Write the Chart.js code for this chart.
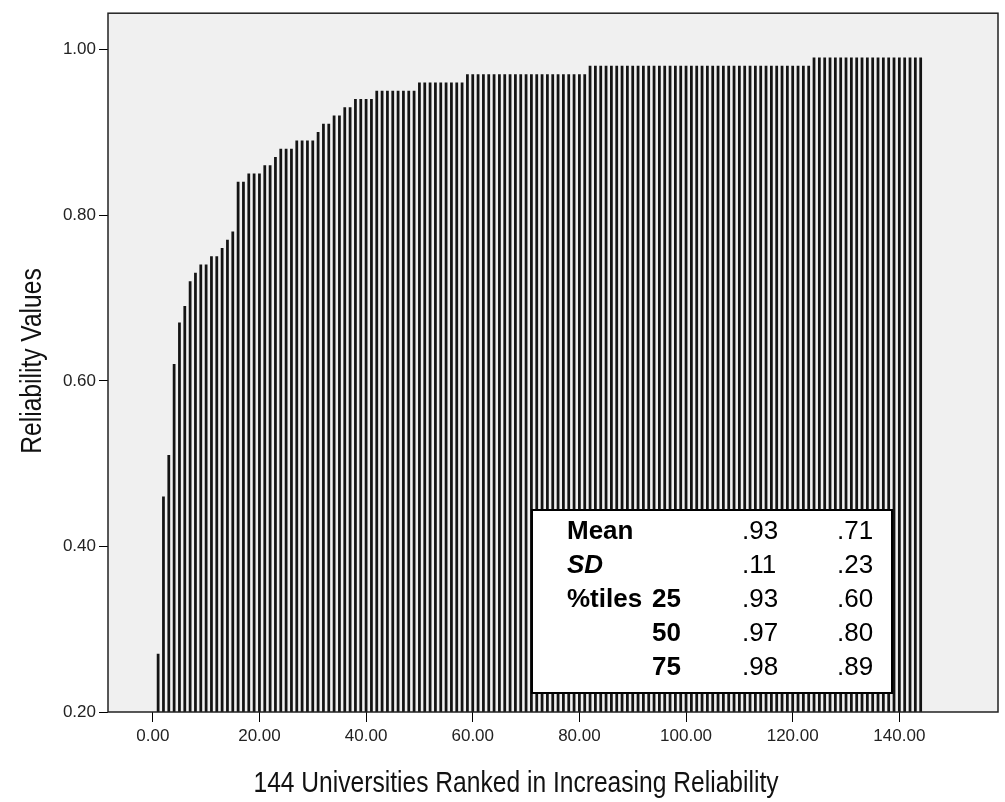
<!DOCTYPE html>
<html>
<head>
<meta charset="utf-8">
<script src="https://cdn.jsdelivr.net/npm/chart.js@4.4.1/dist/chart.umd.min.js"></script>
<style>
  html, body { margin: 0; padding: 0; background: #fff; }
  canvas { display: block; }
</style>
</head>
<body>
<canvas id="reliabilityChart" width="1005" height="802"></canvas>
<script>
// reliability of each university, ranked low to high
const reliability = [
  0.27, 0.46, 0.51, 0.62, 0.67, 0.69, 0.72, 0.73, 0.74, 0.74,
  0.75, 0.75, 0.76, 0.77, 0.78, 0.84, 0.84, 0.85, 0.85, 0.85,
  0.86, 0.86, 0.87, 0.88, 0.88, 0.88, 0.89, 0.89, 0.89, 0.89,
  0.90, 0.91, 0.91, 0.92, 0.92, 0.93, 0.93, 0.94, 0.94, 0.94,
  0.94, 0.95, 0.95, 0.95, 0.95, 0.95, 0.95, 0.95, 0.95, 0.96,
  0.96, 0.96, 0.96, 0.96, 0.96, 0.96, 0.96, 0.96, 0.97, 0.97,
  0.97, 0.97, 0.97, 0.97, 0.97, 0.97, 0.97, 0.97, 0.97, 0.97,
  0.97, 0.97, 0.97, 0.97, 0.97, 0.97, 0.97, 0.97, 0.97, 0.97,
  0.97, 0.98, 0.98, 0.98, 0.98, 0.98, 0.98, 0.98, 0.98, 0.98,
  0.98, 0.98, 0.98, 0.98, 0.98, 0.98, 0.98, 0.98, 0.98, 0.98,
  0.98, 0.98, 0.98, 0.98, 0.98, 0.98, 0.98, 0.98, 0.98, 0.98,
  0.98, 0.98, 0.98, 0.98, 0.98, 0.98, 0.98, 0.98, 0.98, 0.98,
  0.98, 0.98, 0.98, 0.99, 0.99, 0.99, 0.99, 0.99, 0.99, 0.99,
  0.99, 0.99, 0.99, 0.99, 0.99, 0.99, 0.99, 0.99, 0.99, 0.99,
  0.99, 0.99, 0.99, 0.99
];

const xTicks = [0, 20, 40, 60, 80, 100, 120, 140];
const yTicks = [0.20, 0.40, 0.60, 0.80, 1.00];

// summary table in the lower right of the plot
const statNames = ['Mean', 'SD', '%tiles', '', ''];
const statPercentiles = ['', '', '25', '50', '75'];
const statFirst = ['.93', '.11', '.93', '.97', '.98'];
const statSecond = ['.71', '.23', '.60', '.80', '.89'];

const xTitle = '144 Universities Ranked in Increasing Reliability';
const yTitle = 'Reliability Values';

const plainFont = "'Liberation Sans', Arial, sans-serif";

// narrow-looking text: regular sans squeezed along the baseline
function drawNarrowText(ctx, text, x, y, angle) {
  ctx.save();
  ctx.translate(x, y);
  ctx.rotate(angle);
  ctx.scale(0.82, 1);
  ctx.font = '30px ' + plainFont;
  ctx.fillStyle = '#111';
  ctx.textAlign = 'center';
  ctx.textBaseline = 'middle';
  ctx.fillText(text, 0, 0);
  ctx.restore();
}

const plotFrame = {
  id: 'plotFrame',
  beforeDraw(chart) {
    const { ctx, chartArea: a } = chart;
    ctx.save();
    ctx.fillStyle = '#f0f0f0';
    ctx.fillRect(a.left, a.top, a.right - a.left, a.bottom - a.top);
    ctx.restore();
  },
  afterDatasetsDraw(chart) {
    const { ctx, chartArea: a } = chart;
    ctx.save();
    ctx.strokeStyle = '#222';
    ctx.lineWidth = 1.5;
    ctx.strokeRect(a.left, a.top, a.right - a.left, a.bottom - a.top);
    ctx.restore();
  }
};

const statsBox = {
  id: 'statsBox',
  afterDraw(chart) {
    const ctx = chart.ctx;
    const left = 532, top = 510, right = 892, bottom = 693;
    ctx.save();
    ctx.fillStyle = '#fff';
    ctx.fillRect(left, top, right - left, bottom - top);
    ctx.strokeStyle = '#000';
    ctx.lineWidth = 2;
    ctx.strokeRect(left, top, right - left, bottom - top);

    ctx.fillStyle = '#000';
    ctx.textBaseline = 'middle';
    statNames.forEach((name, i) => {
      const y = top + 22 + i * 34;
      ctx.textAlign = 'left';
      ctx.font = (name === 'SD' ? 'italic bold 26px ' : 'bold 26px ') + plainFont;
      ctx.fillText(name, left + 35, y);
      ctx.font = 'bold 26px ' + plainFont;
      ctx.textAlign = 'right';
      ctx.fillText(statPercentiles[i], left + 149, y);
      ctx.font = '26px ' + plainFont;
      ctx.textAlign = 'left';
      ctx.fillText(statFirst[i], left + 210, y);
      ctx.fillText(statSecond[i], left + 305, y);
    });
    ctx.restore();

    // axis titles
    drawNarrowText(ctx, xTitle, 516, 784, 0);
    drawNarrowText(ctx, yTitle, 33, 361, -Math.PI / 2);
  }
};

new Chart(document.getElementById('reliabilityChart'), {
  type: 'bar',
  data: {
    datasets: [{
      data: reliability.map((v, i) => ({ x: i + 1, y: v })),
      backgroundColor: '#141414',
      borderColor: '#000000',
      borderWidth: 0,
      barThickness: 2.1
    }]
  },
  options: {
    responsive: false,
    devicePixelRatio: 1,
    animation: false,
    layout: { padding: { left: 0, right: 7, top: 9, bottom: 0 } },
    plugins: {
      legend: { display: false },
      tooltip: { enabled: false }
    },
    scales: {
      x: {
        type: 'linear',
        min: -8.4,
        max: 158.5,
        offset: false,
        afterFit: (scale) => { scale.height = 90; },
        afterBuildTicks: (scale) => { scale.ticks = xTicks.map(v => ({ value: v })); },
        border: { display: false },
        grid: { offset: false, drawOnChartArea: false, drawTicks: true, tickLength: 10, color: '#000' },
        ticks: {
          padding: 4,
          maxRotation: 0,
          color: '#222',
          font: { family: plainFont, size: 17 },
          callback: (v) => Number(v).toFixed(2)
        }
      },
      y: {
        min: 0.2,
        max: 1.044,
        afterFit: (scale) => { scale.width = 108; },
        afterBuildTicks: (scale) => { scale.ticks = yTicks.map(v => ({ value: v })); },
        border: { display: false },
        grid: { drawOnChartArea: false, drawTicks: true, tickLength: 9, color: '#000' },
        ticks: {
          padding: 3,
          color: '#222',
          font: { family: plainFont, size: 17 },
          callback: (v) => Number(v).toFixed(2)
        }
      }
    }
  },
  plugins: [plotFrame, statsBox]
});
</script>
</body>
</html>
